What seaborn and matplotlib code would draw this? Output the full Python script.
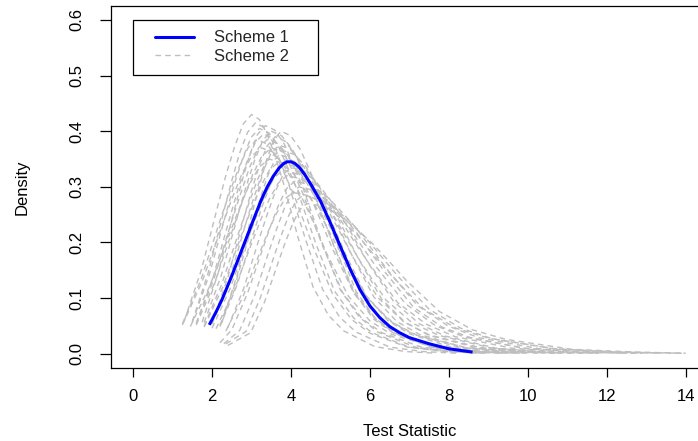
import numpy as np
import pandas as pd
import matplotlib
matplotlib.use("Agg")
import matplotlib.pyplot as plt
import seaborn as sns
from matplotlib.lines import Line2D
from matplotlib.legend_handler import HandlerLine2D

# ---------------- data ----------------
x_ticks = [0, 2, 4, 6, 8, 10, 12, 14]
y_ticks = [0.0, 0.1, 0.2, 0.3, 0.4, 0.5, 0.6]
y_tick_labels = ["0.0", "0.1", "0.2", "0.3", "0.4", "0.5", "0.6"]
legend_labels = ["Scheme 1", "Scheme 2"]

# Scheme 1 (blue solid density)
s1_x = [1.93, 2.10, 2.25, 2.50, 2.75, 3.00, 3.25, 3.40, 3.55, 3.70, 3.80, 3.90, 4.00, 4.10, 4.20, 4.35, 4.50,
        4.75, 5.00, 5.25, 5.50, 5.75, 6.00, 6.25, 6.50, 6.75, 7.00, 7.50, 8.00, 8.60]
s1_y = [0.052, 0.075, 0.097, 0.140, 0.186, 0.232, 0.277, 0.300, 0.319, 0.334, 0.341, 0.345, 0.345, 0.342, 0.336, 0.322, 0.305,
        0.274, 0.235, 0.193, 0.152, 0.115, 0.086, 0.065, 0.049, 0.038, 0.029, 0.018, 0.009, 0.003]

# Scheme 2 (grey dashed densities, one per replicate)
s2_01_x = [1.30, 1.73, 2.15, 2.36, 2.58, 2.79, 3.00, 3.20, 3.39, 3.59, 3.78, 3.98, 4.17, 4.56, 4.95, 5.34, 6.12, 6.90, 7.68]
s2_01_y = [0.060, 0.151, 0.267, 0.323, 0.374, 0.413, 0.430, 0.421, 0.396, 0.357, 0.314, 0.262, 0.211, 0.120, 0.069, 0.041, 0.013, 0.004, 0.001]
s2_02_x = [1.50, 1.90, 2.30, 2.50, 2.70, 2.90, 3.10, 3.31, 3.53, 3.74, 3.95, 4.16, 4.38, 4.80, 5.23, 5.65, 6.50, 7.35, 8.20]
s2_02_y = [0.058, 0.145, 0.257, 0.311, 0.361, 0.398, 0.415, 0.407, 0.382, 0.344, 0.303, 0.253, 0.203, 0.116, 0.066, 0.039, 0.012, 0.004, 0.001]
s2_03_x = [1.50, 1.93, 2.35, 2.56, 2.78, 2.99, 3.20, 3.44, 3.68, 3.91, 4.15, 4.39, 4.63, 5.10, 5.58, 6.05, 7.00, 7.95, 8.90]
s2_03_y = [0.057, 0.142, 0.251, 0.304, 0.352, 0.389, 0.405, 0.397, 0.373, 0.336, 0.296, 0.247, 0.198, 0.113, 0.065, 0.038, 0.012, 0.004, 0.001]
s2_04_x = [1.60, 2.03, 2.45, 2.66, 2.88, 3.09, 3.30, 3.55, 3.80, 4.05, 4.30, 4.55, 4.80, 5.30, 5.80, 6.30, 7.30, 8.30, 9.30]
s2_04_y = [0.055, 0.138, 0.245, 0.296, 0.344, 0.379, 0.395, 0.387, 0.363, 0.328, 0.288, 0.241, 0.194, 0.111, 0.063, 0.038, 0.012, 0.004, 0.001]
s2_05_x = [1.75, 2.15, 2.55, 2.75, 2.95, 3.15, 3.35, 3.59, 3.83, 4.06, 4.30, 4.54, 4.78, 5.25, 5.73, 6.20, 7.15, 8.10, 9.05]
s2_05_y = [0.057, 0.144, 0.254, 0.308, 0.357, 0.394, 0.410, 0.402, 0.377, 0.340, 0.299, 0.250, 0.201, 0.115, 0.066, 0.039, 0.012, 0.004, 0.001]
s2_06_x = [1.60, 2.05, 2.50, 2.73, 2.95, 3.18, 3.40, 3.68, 3.95, 4.23, 4.50, 4.78, 5.05, 5.60, 6.15, 6.70, 7.80, 8.90, 10.00]
s2_06_y = [0.054, 0.135, 0.239, 0.289, 0.335, 0.370, 0.385, 0.377, 0.354, 0.320, 0.281, 0.235, 0.189, 0.108, 0.062, 0.037, 0.012, 0.004, 0.001]
s2_07_x = [1.80, 2.23, 2.65, 2.86, 3.08, 3.29, 3.50, 3.76, 4.03, 4.29, 4.55, 4.81, 5.08, 5.60, 6.13, 6.65, 7.70, 8.75, 9.80]
s2_07_y = [0.056, 0.140, 0.248, 0.300, 0.348, 0.384, 0.400, 0.392, 0.368, 0.332, 0.292, 0.244, 0.196, 0.112, 0.064, 0.038, 0.012, 0.004, 0.001]
s2_08_x = [1.60, 2.08, 2.55, 2.79, 3.03, 3.26, 3.50, 3.80, 4.10, 4.40, 4.70, 5.00, 5.30, 5.90, 6.50, 7.10, 8.30, 9.50, 10.70]
s2_08_y = [0.052, 0.130, 0.229, 0.278, 0.322, 0.355, 0.370, 0.363, 0.340, 0.307, 0.270, 0.226, 0.181, 0.104, 0.059, 0.035, 0.011, 0.004, 0.001]
s2_09_x = [2.00, 2.40, 2.80, 3.00, 3.20, 3.40, 3.60, 3.85, 4.10, 4.35, 4.60, 4.85, 5.10, 5.60, 6.10, 6.60, 7.60, 8.60, 9.60]
s2_09_y = [0.055, 0.137, 0.242, 0.293, 0.339, 0.374, 0.390, 0.382, 0.359, 0.324, 0.285, 0.238, 0.191, 0.109, 0.062, 0.037, 0.012, 0.004, 0.001]
s2_10_x = [1.80, 2.25, 2.70, 2.93, 3.15, 3.38, 3.60, 3.93, 4.25, 4.58, 4.90, 5.23, 5.55, 6.20, 6.85, 7.50, 8.80, 10.10, 11.40]
s2_10_y = [0.050, 0.126, 0.223, 0.270, 0.313, 0.346, 0.360, 0.353, 0.331, 0.299, 0.263, 0.220, 0.176, 0.101, 0.058, 0.034, 0.011, 0.004, 0.001]
s2_11_x = [2.00, 2.43, 2.85, 3.06, 3.28, 3.49, 3.70, 3.98, 4.25, 4.53, 4.80, 5.08, 5.35, 5.90, 6.45, 7.00, 8.10, 9.20, 10.30]
s2_11_y = [0.053, 0.131, 0.233, 0.281, 0.326, 0.360, 0.375, 0.368, 0.345, 0.311, 0.274, 0.229, 0.184, 0.105, 0.060, 0.036, 0.011, 0.004, 0.001]
s2_12_x = [1.80, 2.28, 2.75, 2.99, 3.23, 3.46, 3.70, 4.04, 4.38, 4.71, 5.05, 5.39, 5.73, 6.40, 7.08, 7.75, 9.10, 10.45, 11.80]
s2_12_y = [0.048, 0.121, 0.214, 0.259, 0.300, 0.331, 0.345, 0.338, 0.317, 0.286, 0.252, 0.210, 0.169, 0.097, 0.055, 0.033, 0.010, 0.003, 0.001]
s2_13_x = [2.20, 2.60, 3.00, 3.20, 3.40, 3.60, 3.80, 4.09, 4.38, 4.66, 4.95, 5.24, 5.53, 6.10, 6.68, 7.25, 8.40, 9.55, 10.70]
s2_13_y = [0.051, 0.128, 0.226, 0.274, 0.318, 0.350, 0.365, 0.358, 0.336, 0.303, 0.266, 0.223, 0.179, 0.102, 0.058, 0.035, 0.011, 0.004, 0.001]
s2_14_x = [2.00, 2.45, 2.90, 3.13, 3.35, 3.58, 3.80, 4.16, 4.53, 4.89, 5.25, 5.61, 5.98, 6.70, 7.43, 8.15, 9.60, 11.05, 12.50]
s2_14_y = [0.046, 0.116, 0.205, 0.248, 0.287, 0.317, 0.330, 0.323, 0.304, 0.274, 0.241, 0.201, 0.162, 0.092, 0.053, 0.031, 0.010, 0.003, 0.001]
s2_15_x = [2.20, 2.63, 3.05, 3.26, 3.48, 3.69, 3.90, 4.20, 4.50, 4.80, 5.10, 5.40, 5.70, 6.30, 6.90, 7.50, 8.70, 9.90, 11.10]
s2_15_y = [0.049, 0.123, 0.217, 0.263, 0.305, 0.336, 0.350, 0.343, 0.322, 0.291, 0.256, 0.214, 0.172, 0.098, 0.056, 0.033, 0.011, 0.004, 0.001]
s2_16_x = [2.10, 2.55, 3.00, 3.23, 3.45, 3.68, 3.90, 4.28, 4.65, 5.03, 5.40, 5.78, 6.15, 6.90, 7.65, 8.40, 9.90, 11.40, 12.90]
s2_16_y = [0.045, 0.112, 0.198, 0.240, 0.278, 0.307, 0.320, 0.314, 0.294, 0.266, 0.234, 0.195, 0.157, 0.090, 0.051, 0.030, 0.010, 0.003, 0.001]
s2_17_x = [2.40, 2.80, 3.20, 3.40, 3.60, 3.80, 4.00, 4.33, 4.65, 4.98, 5.30, 5.63, 5.95, 6.60, 7.25, 7.90, 9.20, 10.50, 11.80]
s2_17_y = [0.047, 0.117, 0.208, 0.251, 0.291, 0.322, 0.335, 0.328, 0.308, 0.278, 0.245, 0.204, 0.164, 0.094, 0.054, 0.032, 0.010, 0.003, 0.001]
s2_18_x = [2.20, 2.50, 2.90, 3.30, 3.50, 3.70, 3.90, 4.10, 4.49, 4.88, 5.26, 5.65, 6.04, 6.43, 7.20, 7.98, 8.75, 10.30, 11.85, 13.40]
s2_18_y = [0.020, 0.043, 0.109, 0.192, 0.233, 0.270, 0.298, 0.310, 0.304, 0.285, 0.257, 0.226, 0.189, 0.152, 0.087, 0.050, 0.029, 0.009, 0.003, 0.001]
s2_19_x = [2.30, 2.70, 3.08, 3.45, 3.64, 3.83, 4.01, 4.20, 4.56, 4.93, 5.29, 5.65, 6.01, 6.38, 7.10, 7.83, 8.55, 10.00, 11.45, 12.90]
s2_19_y = [0.018, 0.042, 0.105, 0.186, 0.225, 0.261, 0.288, 0.300, 0.294, 0.276, 0.249, 0.219, 0.183, 0.147, 0.084, 0.048, 0.029, 0.009, 0.003, 0.001]
s2_20_x = [2.35, 2.86, 3.22, 3.58, 3.76, 3.94, 4.12, 4.30, 4.70, 5.10, 5.50, 5.90, 6.30, 6.70, 7.50, 8.30, 9.10, 10.70, 12.30, 13.90]
s2_20_y = [0.018, 0.040, 0.100, 0.177, 0.214, 0.248, 0.274, 0.285, 0.279, 0.262, 0.237, 0.208, 0.174, 0.140, 0.080, 0.046, 0.027, 0.009, 0.003, 0.001]
s2_21_x = [2.40, 2.98, 3.34, 3.69, 3.87, 4.05, 4.22, 4.40, 4.82, 5.24, 5.66, 6.08, 6.50, 6.92, 7.76, 8.60, 9.44, 11.12, 12.80, 14.00]
s2_21_y = [0.015, 0.038, 0.095, 0.167, 0.203, 0.235, 0.259, 0.270, 0.265, 0.248, 0.224, 0.197, 0.165, 0.132, 0.076, 0.043, 0.026, 0.008, 0.003, 0.001]
s2_22_x = [1.25, 1.75, 2.25, 2.50, 2.75, 3.00, 3.25, 3.53, 3.80, 4.08, 4.35, 4.63, 4.90, 5.45, 6.00, 6.55, 7.65, 8.75, 9.85]
s2_22_y = [0.052, 0.130, 0.229, 0.278, 0.322, 0.355, 0.370, 0.363, 0.340, 0.307, 0.270, 0.226, 0.181, 0.104, 0.059, 0.035, 0.011, 0.004, 0.001]
s2_23_x = [1.45, 1.95, 2.45, 2.70, 2.95, 3.20, 3.45, 3.76, 4.08, 4.39, 4.70, 5.01, 5.33, 5.95, 6.58, 7.20, 8.45, 9.70, 10.95]
s2_23_y = [0.049, 0.123, 0.217, 0.263, 0.305, 0.336, 0.350, 0.343, 0.322, 0.291, 0.256, 0.214, 0.172, 0.098, 0.056, 0.033, 0.011, 0.004, 0.001]
s2_24_x = [2.35, 2.78, 3.20, 3.41, 3.63, 3.84, 4.05, 4.46, 4.88, 5.29, 5.70, 6.11, 6.53, 7.35, 8.18, 9.00, 10.65, 12.30, 13.95]
s2_24_y = [0.041, 0.102, 0.180, 0.218, 0.252, 0.278, 0.290, 0.284, 0.267, 0.241, 0.212, 0.177, 0.142, 0.081, 0.046, 0.028, 0.009, 0.003, 0.001]
s2_25_x = [1.25, 1.73, 2.20, 2.44, 2.68, 2.91, 3.15, 3.39, 3.63, 3.86, 4.10, 4.34, 4.58, 5.05, 5.53, 6.00, 6.95, 7.90, 8.85]
s2_25_y = [0.054, 0.135, 0.239, 0.289, 0.335, 0.370, 0.385, 0.377, 0.354, 0.320, 0.281, 0.235, 0.189, 0.108, 0.062, 0.037, 0.012, 0.004, 0.001]
s2_26_x = [2.25, 2.63, 3.00, 3.19, 3.38, 3.56, 3.75, 3.99, 4.23, 4.46, 4.70, 4.94, 5.18, 5.65, 6.13, 6.60, 7.55, 8.50, 9.45]
s2_26_y = [0.056, 0.140, 0.248, 0.300, 0.348, 0.384, 0.400, 0.392, 0.368, 0.332, 0.292, 0.244, 0.196, 0.112, 0.064, 0.038, 0.012, 0.004, 0.001]

scheme2_runs = [
    (s2_01_x, s2_01_y), (s2_02_x, s2_02_y), (s2_03_x, s2_03_y), (s2_04_x, s2_04_y),
    (s2_05_x, s2_05_y), (s2_06_x, s2_06_y), (s2_07_x, s2_07_y), (s2_08_x, s2_08_y),
    (s2_09_x, s2_09_y), (s2_10_x, s2_10_y), (s2_11_x, s2_11_y), (s2_12_x, s2_12_y),
    (s2_13_x, s2_13_y), (s2_14_x, s2_14_y), (s2_15_x, s2_15_y), (s2_16_x, s2_16_y),
    (s2_17_x, s2_17_y), (s2_18_x, s2_18_y), (s2_19_x, s2_19_y), (s2_20_x, s2_20_y),
    (s2_21_x, s2_21_y), (s2_22_x, s2_22_y), (s2_23_x, s2_23_y), (s2_24_x, s2_24_y),
    (s2_25_x, s2_25_y), (s2_26_x, s2_26_y),
]

df2 = pd.concat(
    [pd.DataFrame({"x": xs, "y": ys, "run": i}) for i, (xs, ys) in enumerate(scheme2_runs)],
    ignore_index=True,
)
df1 = pd.DataFrame({"x": s1_x, "y": s1_y})

# ---------------- styling ----------------
sns.set_theme(style="white")
plt.rcParams["font.family"] = ["Liberation Sans", "DejaVu Sans"]
FS = 12
GREY = "#BEBEBE"
DASH = (0, (4, 3))

W, H = 698, 441
fig = plt.figure(figsize=(W / 100, H / 100), dpi=100)
left_px, right_px, top_px, bottom_px = 111, 707.8, 6, 367.7
ax = fig.add_axes([left_px / W, (H - bottom_px) / H,
                   (right_px - left_px) / W, (bottom_px - top_px) / H])

sns.lineplot(data=df2, x="x", y="y", units="run", estimator=None, sort=False,
             color=GREY, lw=1.0, linestyle=DASH, ax=ax, legend=False)
sns.lineplot(data=df1, x="x", y="y", estimator=None, sort=False,
             color="#0000FF", lw=2.2, solid_joinstyle="round",
             solid_capstyle="butt", ax=ax, legend=False)

ax.set_xlim(-0.56, 14.56)
ax.set_ylim(-0.025, 0.625)
ax.set_xticks(x_ticks)
ax.set_xticklabels([str(t) for t in x_ticks], fontsize=FS)
ax.set_yticks(y_ticks)
ax.set_yticklabels(y_tick_labels, fontsize=FS, rotation=90, va="center")

ax.tick_params(axis="x", direction="out", length=6.8, width=0.9, pad=8.5,
               colors="black", bottom=True)
ax.tick_params(axis="y", direction="out", length=7.9, width=0.9, pad=11,
               colors="black", left=True)

for sp in ax.spines.values():
    sp.set_visible(True)
    sp.set_color("black")
    sp.set_linewidth(0.9)

ax.set_xlabel("Test Statistic", fontsize=FS, color="black")
ax.set_ylabel("Density", fontsize=FS, color="black")
ax.xaxis.set_label_coords(0.5, (bottom_px - 432) / (bottom_px - top_px))
ax.xaxis.label.set_va("center")
ax.yaxis.set_label_coords((22 - left_px) / (right_px - left_px), 0.5)
ax.yaxis.label.set_va("center")
ax.yaxis.label.set_ha("center")


class PadLineHandler(HandlerLine2D):
    def get_xdata(self, legend, xdescent, ydescent, width, height, fontsize):
        x0 = -xdescent + width * 0.22
        x1 = -xdescent + width
        xd = np.array([x0, x1])
        return xd, xd


handles = [Line2D([], [], color="#0000FF", lw=2.2),
           Line2D([], [], color=GREY, lw=1.0, linestyle=DASH)]
bx0 = (133 - left_px) / (right_px - left_px)
bx1 = (318 - left_px) / (right_px - left_px)
by_top = (bottom_px - 20) / (bottom_px - top_px)
by_bot = (bottom_px - 74) / (bottom_px - top_px)
leg = ax.legend(handles, legend_labels, loc="upper left",
                bbox_to_anchor=(bx0, by_bot, bx1 - bx0, by_top - by_bot),
                mode="expand", borderaxespad=0, fancybox=False, shadow=False,
                edgecolor="black", framealpha=1, fontsize=FS,
                handlelength=3.05, handletextpad=1.2, borderpad=0.62,
                labelspacing=0.23,
                handler_map={Line2D: PadLineHandler()})
leg.get_frame().set_linewidth(0.9)

fig.savefig("out.png", dpi=100)
